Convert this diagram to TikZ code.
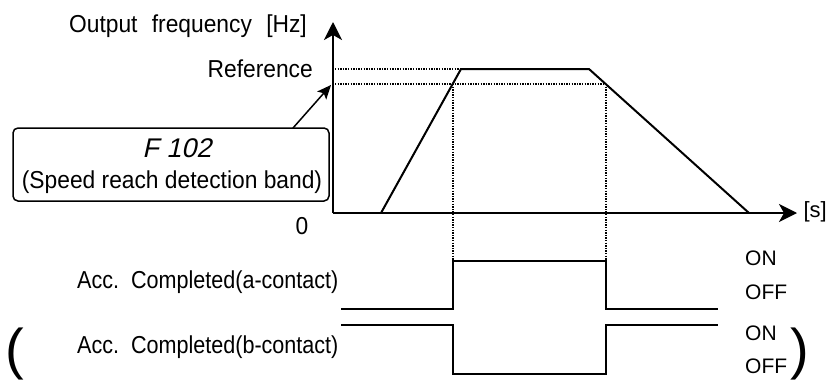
\documentclass[tikz,border=0pt]{standalone}
\usepackage{fontspec}
\setmainfont[FakeStretch=0.93]{Liberation Sans}
\newfontfamily\segfont[FakeSlant=0.22]{Liberation Sans}
\newfontfamily\narrowfont[FakeStretch=0.88]{Liberation Sans}
\newfontfamily\plainfont{Liberation Sans}
\usetikzlibrary{arrows.meta}
\begin{document}
\begin{tikzpicture}[x=1pt,y=-1pt,
  lbl/.style={font=\fontsize{24.5}{26}\selectfont, inner sep=0pt},
  acc/.style={font=\narrowfont\fontsize{24.5}{26}\selectfont, inner sep=0pt},
  sm/.style={font=\plainfont\fontsize{21}{23}\selectfont, inner sep=0pt},
  axis/.style={line width=2pt, -{Stealth[length=18pt,width=18pt,inset=5pt]}},
  curve/.style={line width=2pt, line join=miter},
  guide/.style={line width=1.2pt, dash pattern=on 1.3pt off 1.3pt},
  sig/.style={line width=2pt, line join=miter},
  paren/.style={font=\plainfont\fontsize{56}{58}\selectfont, inner sep=0pt},
]
\useasboundingbox (0,0) rectangle (828,380);

% axes
\coordinate (O) at (333,213);
\coordinate (ytip) at (333,22);
\coordinate (xtip) at (797,213);
\draw[axis] (O) -- (ytip);
\draw[axis] (O) -- (xtip);

% trapezoid
\coordinate (t0) at (381,213);
\coordinate (t1) at (461,69);
\coordinate (t2) at (589,69);
\coordinate (t3) at (749,213);
\draw[curve] (t0) -- (t1) -- (t2) -- (t3);

% guides
\coordinate (r0) at (335,69);
\coordinate (b0) at (335,84);
\coordinate (b1) at (453,84);
\coordinate (b2) at (606,84);
\coordinate (v1) at (453,261);
\coordinate (v2) at (606,261);
\draw[guide] (r0) -- (t1);
\draw[guide] (b0) -- (b2);
\draw[guide] (b1) -- (v1);
\draw[guide] (b2) -- (v2);

% signal a
\coordinate (a0) at (341,309);
\coordinate (a1) at (453,309);
\coordinate (a4) at (606,309);
\coordinate (a5) at (718,309);
\draw[sig] (a0) -- (a1) -- (v1) -- (v2) -- (a4) -- (a5);

% signal b
\coordinate (c0) at (341,325);
\coordinate (c1) at (453,325);
\coordinate (c2) at (453,374);
\coordinate (c3) at (606,374);
\coordinate (c4) at (606,325);
\coordinate (c5) at (718,325);
\draw[sig] (c0) -- (c1) -- (c2) -- (c3) -- (c4) -- (c5);

% box
\node[draw, line width=1.5pt, rounded corners=5pt, minimum width=316pt, minimum height=73pt, inner sep=0pt] (box) at (171,164.5) {};
\node[inner sep=0pt, font=\segfont\fontsize{27}{29}\selectfont] (code) at (177,148) {F 102};
\node[lbl] (band) at (172,182) {(Speed reach detection band)};
\coordinate (boxarr) at (293,128);
\coordinate (bandtip) at (331,85);
\draw[line width=1.5pt, -{Stealth[length=14pt,width=12pt,inset=3pt]}] (boxarr) -- (bandtip);

% labels
\node[lbl, anchor=east] (ylab) at (307,26) {Output\hspace{8pt} frequency\hspace{8pt} [Hz]};
\node[lbl, anchor=east] (ref) at (313,69) {Reference};
\node[lbl] (zero) at (302,226) {0};
\node[font=\plainfont\fontsize{22}{24}\selectfont, inner sep=0pt, anchor=east] (sec) at (827,212) {[s]};
\node[acc, anchor=west] (acca) at (77,282) {Acc.\hspace{4pt} Completed(a-contact)};
\node[acc, anchor=west] (accb) at (77,347) {Acc.\hspace{4pt} Completed(b-contact)};
\node[sm, anchor=west] (ona) at (745,258) {ON};
\node[sm, anchor=west] (offa) at (745,292) {OFF};
\node[sm, anchor=west] (onb) at (745,333) {ON};
\node[sm, anchor=west] (offb) at (745,366) {OFF};
\node[paren] (lp) at (15,354) {(};
\node[paren] (rp) at (800,354) {)};
\end{tikzpicture}
\end{document}
